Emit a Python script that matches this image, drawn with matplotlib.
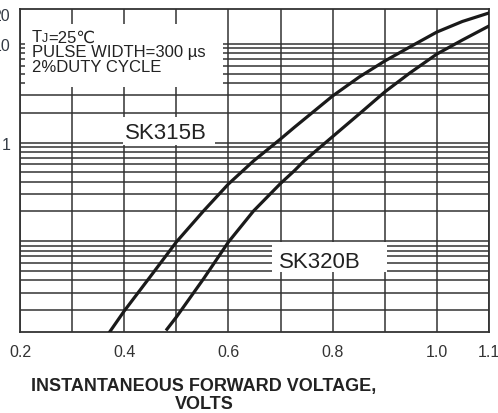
import numpy as np
import matplotlib
matplotlib.use("Agg")
import matplotlib.pyplot as plt
from matplotlib.ticker import FixedLocator, FixedFormatter, NullFormatter, LogLocator
from matplotlib.patches import Rectangle

plt.rcParams['font.family'] = ['Liberation Sans', 'DejaVu Sans']

# ---- data ----
sk315b_v = [0.372, 0.400, 0.450, 0.500, 0.552, 0.600, 0.648, 0.700, 0.726,
            0.800, 0.851, 0.900, 0.948, 1.000, 1.049, 1.100]
sk315b_i = [0.0120, 0.0196, 0.0437, 0.0981, 0.202, 0.380, 0.650, 1.087, 1.42,
            2.97, 4.62, 6.71, 9.31, 13.2, 16.9, 20.6]

sk320b_v = [0.482, 0.500, 0.552, 0.600, 0.648, 0.700, 0.726, 0.745,
            0.800, 0.851, 0.900, 0.948, 1.000, 1.049, 1.100]
sk320b_i = [0.0128, 0.0170, 0.0414, 0.0981, 0.202, 0.385, 0.515, 0.650,
            1.15, 1.95, 3.26, 5.07, 7.90, 10.96, 15.2]

x_ticks = [0.2, 0.3, 0.4, 0.5, 0.6, 0.7, 0.8, 0.9, 1.0, 1.1]
x_labels = ['0.2', '', '0.4', '', '0.6', '', '0.8', '', '1.0', '1.1']
y_ticks = [0.1, 1, 10, 20]
y_labels = ['', '1', '10', '20']

x_range = (0.2, 1.1)
y_range = (0.012, 22.6)

note_first = ["T", "J", "=25\u2103"]
note_rest = "PULSE WIDTH=300 \u00b5s\n2%DUTY CYCLE"
xlabel_text = "INSTANTANEOUS FORWARD VOLTAGE,\nVOLTS"

# ---- figure ----
fig = plt.figure(figsize=(4.98, 4.14), dpi=100)
ax = fig.add_axes([20/498, 1-333/414, 469/498, 323/414])
ax.set_yscale('log')
ax.set_xlim(*x_range)
ax.set_ylim(*y_range)

ax.xaxis.set_major_locator(FixedLocator(x_ticks))
ax.xaxis.set_major_formatter(FixedFormatter(x_labels))
ax.yaxis.set_major_locator(FixedLocator(y_ticks))
ax.yaxis.set_major_formatter(FixedFormatter(y_labels))
ax.yaxis.set_minor_locator(LogLocator(base=10, subs=np.arange(2, 10)))
ax.yaxis.set_minor_formatter(NullFormatter())

ax.tick_params(axis='both', which='both', length=0)
ax.tick_params(axis='x', pad=9, labelsize=11.5, labelcolor='#333333')
ax.tick_params(axis='y', pad=7, labelsize=11.5, labelcolor='#333a44')

ax.set_axisbelow(True)
ax.grid(True, which='major', axis='both', color='#333333', lw=1.1)
ax.grid(True, which='minor', axis='y', color='#333333', lw=1.1)
ax.yaxis.get_major_ticks()[-1].gridline.set_visible(False)

for sp in ax.spines.values():
    sp.set_color('#333333')
    sp.set_linewidth(1.3)

ax.plot(sk315b_v, sk315b_i, color='#1a1a1a', lw=2.3, zorder=3,
        solid_joinstyle='round')
ax.plot(sk320b_v, sk320b_i, color='#1a1a1a', lw=2.3, zorder=3,
        solid_joinstyle='round')

# white boxes behind annotations
ax.add_patch(Rectangle((0.0107, 0.7585), 0.4223, 0.195, transform=ax.transAxes,
                       facecolor='white', edgecolor='none', zorder=2))
ax.add_patch(Rectangle((0.2196, 0.579), 0.196, 0.0866, transform=ax.transAxes,
                       facecolor='white', edgecolor='none', zorder=2))
ax.add_patch(Rectangle((0.537, 0.1858), 0.2455, 0.0928, transform=ax.transAxes,
                       facecolor='white', edgecolor='none', zorder=2))

# note: first line T_J=25℃ built from pieces
fs_note = 12
t1 = ax.text(0.0256, (333-38)/323, note_first[0], transform=ax.transAxes,
             ha='left', va='center', fontsize=fs_note, color='#222222', zorder=4)
tJ = ax.annotate(note_first[1], xy=(1, 0), xycoords=t1, ha='left', va='bottom',
                 fontsize=fs_note*0.75, color='#222222', zorder=4)
ax.annotate(note_first[2], xy=(1, 0), xycoords=(tJ, t1), ha='left', va='bottom',
            fontsize=fs_note, color='#222222', zorder=4)
ax.text(0.0256, (333-60)/323, note_rest, transform=ax.transAxes, ha='left',
        va='center', fontsize=fs_note, color='#222222', linespacing=0.95, zorder=4)

ax.text((166-20)/469, (333-133.5)/323, "SK315B", transform=ax.transAxes,
        ha='center', va='center', fontsize=16, color='#222222', zorder=4)
ax.text((319.5-20)/469, (333-262.5)/323, "SK320B", transform=ax.transAxes,
        ha='center', va='center', fontsize=16, color='#222222', zorder=4)

fig.text(204/498, 1-395.5/414, xlabel_text, ha='center', va='center',
         fontsize=13, fontweight='bold', color='#222222', linespacing=1.02,
         multialignment='center')

fig.savefig('out.png', dpi=100, facecolor='white')
